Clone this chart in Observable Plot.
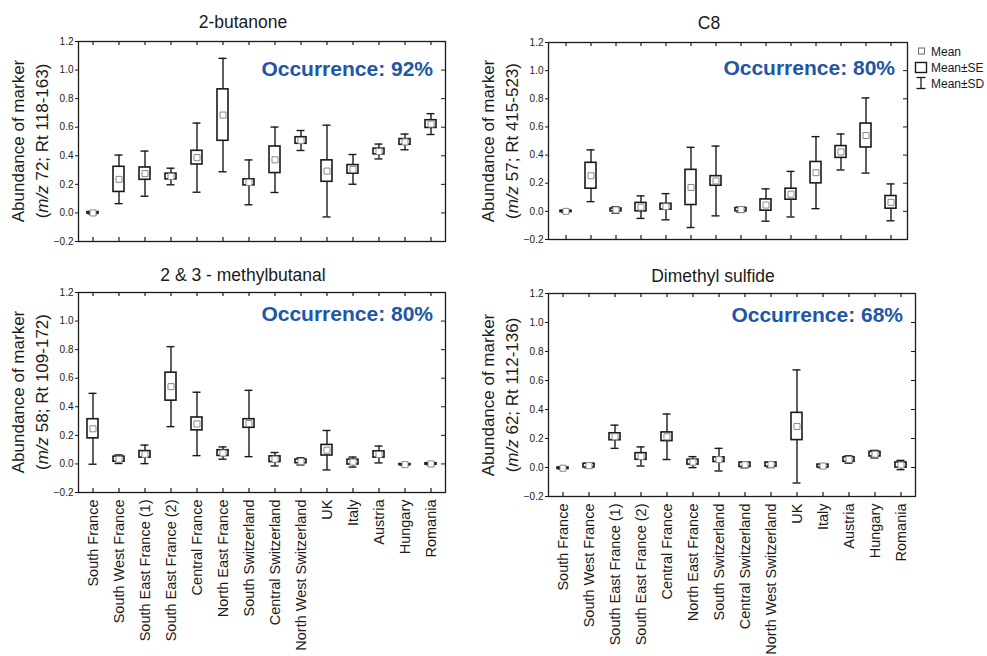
<!DOCTYPE html>
<html>
<head>
<meta charset="utf-8">
<script src="https://cdn.jsdelivr.net/npm/d3@7"></script>
<script src="https://cdn.jsdelivr.net/npm/@observablehq/plot@0.6"></script>
<style>
  html, body { margin: 0; padding: 0; background: #fff; }
  #root { position: relative; width: 987px; height: 656px; overflow: hidden; font-family: "Liberation Sans", Arial, sans-serif; color: #1a1a1a; }
  .abs { position: absolute; white-space: nowrap; }
  .title { font-size: 17.5px; transform: translateX(-50%); line-height: 1; }
  .occ { font-size: 21px; font-weight: bold; color: #2156a6; line-height: 1; transform: translateX(-100%); }
  .ylab { font-size: 17px; line-height: 24px; text-align: center; transform: translate(-50%, -50%) rotate(-90deg); }
  .legend { font-size: 12px; }
</style>
</head>
<body>
<div id="root"></div>
<script>
const regions = ["South France","South West France","South East France (1)","South East France (2)","Central France","North East France","South Switzerland","Central Switzerland","North West Switzerland","UK","Italy","Austria","Hungary","Romania"];
const yTicks = [-0.2, 0, 0.2, 0.4, 0.6, 0.8, 1.0, 1.2];

const butanoneMean = [0.000,0.235,0.275,0.255,0.387,0.685,0.214,0.372,0.507,0.293,0.305,0.430,0.497,0.622];
const butanoneSE   = [0.006,0.088,0.043,0.020,0.048,0.180,0.021,0.093,0.023,0.075,0.030,0.020,0.020,0.027];
const butanoneSD   = [0.010,0.170,0.158,0.058,0.242,0.397,0.157,0.229,0.070,0.321,0.104,0.052,0.055,0.073];

const c8Mean = [0.000,0.253,0.010,0.030,0.033,0.170,0.216,0.012,0.045,0.122,0.275,0.422,0.539,0.064];
const c8SE   = [0.005,0.092,0.010,0.030,0.021,0.125,0.034,0.012,0.040,0.039,0.076,0.042,0.085,0.045];
const c8SD   = [0.008,0.184,0.023,0.080,0.093,0.285,0.248,0.019,0.115,0.162,0.256,0.128,0.267,0.131];

const methylMean = [0.246,0.033,0.067,0.541,0.280,0.076,0.283,0.033,0.018,0.096,0.013,0.066,-0.005,0.000];
const methylSE   = [0.067,0.018,0.023,0.098,0.045,0.020,0.030,0.020,0.013,0.037,0.017,0.022,0.004,0.005];
const methylSD   = [0.248,0.030,0.065,0.280,0.222,0.043,0.232,0.047,0.025,0.138,0.035,0.059,0.006,0.008];

const dmsMean = [-0.005,0.013,0.212,0.076,0.212,0.037,0.054,0.019,0.020,0.283,0.010,0.055,0.092,0.017];
const dmsSE   = [0.005,0.013,0.024,0.023,0.030,0.017,0.016,0.015,0.014,0.094,0.010,0.016,0.016,0.018];
const dmsSD   = [0.007,0.016,0.080,0.066,0.157,0.038,0.078,0.021,0.020,0.390,0.013,0.025,0.026,0.032];

const titles = ["2-butanone", "C8", "2 & 3 - methylbutanal", "Dimethyl sulfide"];
const yLabels2 = ["72; Rt 118-163", "57; Rt 415-523", "58; Rt 109-172", "62; Rt 112-136"];
const occurrences = ["92%", "80%", "80%", "68%"];
const legendLabels = ["Mean", "Mean±SE", "Mean±SD"];

const root = document.getElementById("root");

function addDiv(cls, html, left, top) {
  const d = document.createElement("div");
  d.className = "abs " + cls;
  d.innerHTML = html;
  d.style.left = left + "px";
  d.style.top = top + "px";
  root.appendChild(d);
  return d;
}

function panel(opts) {
  const {mean, se, sd, fl, fr, ft, fb, showX, title, titleX, titleY, ylab2, occ, occY} = opts;
  const rows = regions.map((r, i) => ({region: r, mean: mean[i], se: se[i], sd: sd[i]}));
  const ML = 40, MR = 6, MT = 6;
  const MB = showX ? (656 - fb) : 6;
  const fw = fr - fl, fh = fb - ft;
  const stroke = "#1a1a1a";
  const marks = [
    Plot.frame({stroke, strokeWidth: 1.3}),
    Plot.axisY({ticks: yTicks, tickFormat: d3.format(".1f"), tickSize: 3, tickPadding: 2, fontSize: 10, label: null, stroke}),
    Plot.tickY(yTicks, {y: d => d, insetLeft: fw - 4, stroke, strokeWidth: 1}),
    Plot.tickX(regions, {x: d => d, insetTop: fh - 4, stroke, strokeWidth: 1.2}),
    Plot.tickX(regions, {x: d => d, insetBottom: fh - 4, stroke, strokeWidth: 1.2}),
    Plot.ruleX(rows, {x: "region", y1: d => d.mean - d.sd, y2: d => d.mean + d.sd, stroke, strokeWidth: 1.4}),
    Plot.tickY(rows, {x: "region", y: d => d.mean + d.sd, insetLeft: 1.5, insetRight: 1.5, stroke, strokeWidth: 1.4}),
    Plot.tickY(rows, {x: "region", y: d => d.mean - d.sd, insetLeft: 1.5, insetRight: 1.5, stroke, strokeWidth: 1.4}),
    Plot.barY(rows, {x: "region", y1: d => d.mean - d.se, y2: d => d.mean + d.se, fill: "white", stroke, strokeWidth: 1.6}),
    Plot.dot(rows, {x: "region", y: "mean", symbol: "square", r: 3.4, fill: "white", stroke: "#8a8a8a", strokeWidth: 1})
  ];
  if (showX) {
    marks.push(Plot.axisX({tickRotate: -90, tickSize: 0, tickPadding: 7, fontSize: 14.5, label: null, fill: "#1a1a1a"}));
  }
  const chart = Plot.plot({
    width: fw + ML + MR,
    height: fh + MT + MB,
    marginLeft: ML, marginRight: MR, marginTop: MT, marginBottom: MB,
    x: {type: "band", domain: regions, paddingInner: 0.58, paddingOuter: 0.23, axis: null},
    y: {domain: [-0.2, 1.2], axis: null},
    style: {fontFamily: "'Liberation Sans', Arial, sans-serif", fontSize: "10px", color: "#1a1a1a", background: "transparent", overflow: "visible"},
    marks
  });
  chart.style.position = "absolute";
  chart.style.left = (fl - ML) + "px";
  chart.style.top = (ft - MT) + "px";
  root.appendChild(chart);

  addDiv("title", title, titleX, titleY);
  addDiv("occ", "Occurrence: " + occ, fr - 12, occY);
  const cy = (ft + fb) / 2;
  addDiv("ylab", "Abundance of marker<br>(<i>m/z</i> " + ylab2 + ")", fl - 47, cy);
}

panel({mean: butanoneMean, se: butanoneSE, sd: butanoneSD, fl: 78, fr: 445, ft: 41, fb: 241, showX: false,
  title: titles[0], titleX: 243, titleY: 14, ylab2: yLabels2[0], occ: occurrences[0], occY: 58});
panel({mean: c8Mean, se: c8SE, sd: c8SD, fl: 548, fr: 907, ft: 42, fb: 239, showX: false,
  title: titles[1], titleX: 709, titleY: 15, ylab2: yLabels2[1], occ: occurrences[1], occY: 57});
panel({mean: methylMean, se: methylSE, sd: methylSD, fl: 78, fr: 445, ft: 292, fb: 492, showX: true,
  title: titles[2], titleX: 243, titleY: 267, ylab2: yLabels2[2], occ: occurrences[2], occY: 303});
panel({mean: dmsMean, se: dmsSE, sd: dmsSD, fl: 548, fr: 915, ft: 293, fb: 496, showX: true,
  title: titles[3], titleX: 713, titleY: 268, ylab2: yLabels2[3], occ: occurrences[3], occY: 304});

// Legend
const lg = document.createElement("div");
lg.className = "abs legend";
lg.style.left = "912px";
lg.style.top = "42px";
lg.innerHTML = `
<svg width="75" height="52" style="overflow:visible;font-family:'Liberation Sans',Arial,sans-serif;font-size:12px">
  <rect x="6.5" y="6" width="6" height="6" fill="white" stroke="#6a6a6a" stroke-width="1"/>
  <text x="19" y="13.5" fill="#1a1a1a">${legendLabels[0]}</text>
  <rect x="3.5" y="20.5" width="11" height="10" fill="white" stroke="#1a1a1a" stroke-width="1.4"/>
  <text x="19" y="30" fill="#1a1a1a">${legendLabels[1]}</text>
  <line x1="9" y1="35.5" x2="9" y2="46.5" stroke="#1a1a1a" stroke-width="1.3"/>
  <line x1="4.5" y1="35.5" x2="13.5" y2="35.5" stroke="#1a1a1a" stroke-width="1.3"/>
  <line x1="4.5" y1="46.5" x2="13.5" y2="46.5" stroke="#1a1a1a" stroke-width="1.3"/>
  <text x="19" y="46" fill="#1a1a1a">${legendLabels[2]}</text>
</svg>`;
root.appendChild(lg);
</script>
</body>
</html>
